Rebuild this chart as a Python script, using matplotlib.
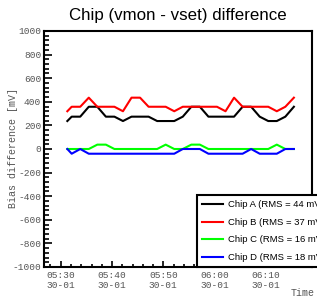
import matplotlib
matplotlib.use("Agg")
import matplotlib.pyplot as plt
import matplotlib.dates as mdates
import numpy as np
import pandas as pd

# sample times (30-01)
times = ["05:31:17", "05:32:08", "05:33:48", "05:35:28", "05:37:08", "05:38:48",
         "05:40:28", "05:42:08", "05:43:48", "05:45:28", "05:47:08", "05:48:48",
         "05:50:28", "05:52:08", "05:53:48", "05:55:28", "05:57:08", "05:58:48",
         "06:00:28", "06:02:08", "06:03:48", "06:05:28", "06:07:08", "06:08:48",
         "06:10:28", "06:12:08", "06:13:48", "06:15:28"]

# vmon - vset per chip [mV]
chip_a = [237, 274, 274, 358, 358, 274, 274, 237, 274, 274, 274, 237, 237, 237,
          274, 358, 358, 274, 274, 274, 274, 358, 358, 274, 237, 237, 274, 358]
chip_b = [320, 358, 358, 435, 358, 358, 358, 320, 435, 435, 358, 358, 358, 320,
          358, 358, 358, 358, 358, 320, 435, 358, 358, 358, 358, 320, 358, 435]
chip_c = [0, 0, 0, 0, 37, 37, 0, 0, 0, 0, 0, 0, 37, 0,
          0, 37, 37, 0, 0, 0, 0, 0, 0, 0, 0, 37, 0, 0]
chip_d = [0, -40, 0, -40, -40, -40, -40, -40, -40, -40, -40, -40, -40, -40,
          0, 0, 0, -40, -40, -40, -40, -40, 0, -40, -40, -40, 0, 0]

labels = ["Chip A (RMS = 44 mV)", "Chip B (RMS = 37 mV)",
          "Chip C (RMS = 16 mV)", "Chip D (RMS = 18 mV)"]
colors = ["black", "red", "#00ff00", "blue"]

plt.rcParams["axes.unicode_minus"] = False
mono = "Liberation Mono"
gray = "#555555"

t = pd.to_datetime(["2024-01-30 " + s for s in times])

fig = plt.figure(figsize=(3.17, 2.97), dpi=100)
ax = fig.add_axes([44 / 317, 30 / 297, 268 / 317, 236 / 297])

for vals, col, lab in zip([chip_a, chip_b, chip_c, chip_d], colors, labels):
    ax.plot(t, vals, color=col, lw=1.5, label=lab)

ax.set_ylim(-1000, 1000)
ax.set_xlim(pd.Timestamp("2024-01-30 05:26:44"), pd.Timestamp("2024-01-30 06:19:00"))
ax.set_yticks(np.arange(-1000, 1001, 200))
ax.set_yticks(np.arange(-1000, 1001, 40), minor=True)
ax.xaxis.set_major_locator(mdates.MinuteLocator(byminute=range(0, 60, 10)))
ax.xaxis.set_minor_locator(mdates.MinuteLocator(byminute=range(0, 60, 2)))
ax.xaxis.set_major_formatter(mdates.DateFormatter("%H:%M\n%d-%m"))

for s in ax.spines.values():
    s.set_linewidth(1.5)

ax.tick_params(axis="y", which="major", direction="in", length=6, width=1.2,
               pad=2, labelsize=6.8, labelcolor=gray)
ax.tick_params(axis="y", which="minor", direction="in", length=3.5, width=1.2)
ax.tick_params(axis="x", which="major", direction="in", length=4.3, width=1.2,
               pad=3, labelsize=6.8, labelcolor=gray)
ax.tick_params(axis="x", which="minor", direction="in", length=2.2, width=1.2)
for lbl in ax.get_xticklabels() + ax.get_yticklabels():
    lbl.set_family(mono)
for lbl in ax.get_xticklabels():
    lbl.set_linespacing(1.1)

# axis titles placed as in the ROOT canvas
fig.text(13 / 317, 1 - 148 / 297, "Bias difference [mV]", family=mono,
         fontsize=7.2, color=gray, rotation=90, ha="center", va="center")
fig.text(315 / 317, 4 / 297, "Time", family=mono, fontsize=7.2, color=gray,
         ha="right", va="center")
ax.set_title("Chip (vmon - vset) difference", family="Liberation Sans",
             fontsize=12.2, pad=8)

leg = ax.legend(loc="lower left", bbox_to_anchor=(153 / 268, 0.0),
                borderaxespad=0, fancybox=False, framealpha=1,
                edgecolor="black", prop={"family": "Liberation Sans", "size": 6.8},
                handlelength=2.2, handletextpad=0.5, labelspacing=0.9,
                borderpad=0.55)
leg.get_frame().set_linewidth(1.5)

fig.savefig("out.png", dpi=100)
